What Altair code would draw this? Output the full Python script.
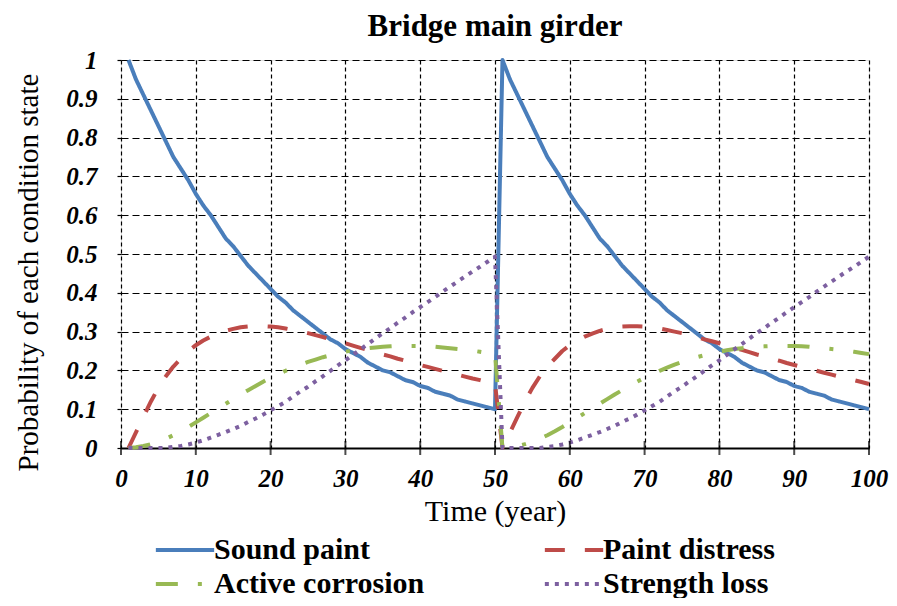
import altair as alt
import pandas as pd

# ---- data (one 50-year maintenance cycle, repeated) ----
years = list(range(1, 101))

sound_cycle = [1.00, 0.95, 0.91, 0.87, 0.83, 0.79, 0.75, 0.72, 0.69, 0.655,
               0.625, 0.60, 0.57, 0.54, 0.52, 0.495, 0.47, 0.45, 0.43, 0.41,
               0.39, 0.375, 0.355, 0.34, 0.325, 0.31, 0.295, 0.28, 0.27, 0.255,
               0.245, 0.235, 0.22, 0.21, 0.20, 0.195, 0.185, 0.175, 0.17, 0.16,
               0.155, 0.145, 0.14, 0.135, 0.125, 0.12, 0.115, 0.11, 0.105, 0.10]

paint_cycle = [0.00, 0.04, 0.08, 0.12, 0.155, 0.185, 0.21, 0.23, 0.25, 0.265,
               0.277, 0.287, 0.295, 0.302, 0.307, 0.311, 0.313, 0.314, 0.314, 0.313,
               0.311, 0.308, 0.304, 0.30, 0.296, 0.291, 0.286, 0.28, 0.275, 0.27,
               0.264, 0.258, 0.253, 0.247, 0.241, 0.236, 0.23, 0.225, 0.219, 0.214,
               0.209, 0.204, 0.199, 0.194, 0.189, 0.184, 0.179, 0.175, 0.17, 0.165]

corrosion_cycle = [0.00, 0.002, 0.005, 0.01, 0.016, 0.024, 0.033, 0.043, 0.054, 0.066,
                   0.078, 0.09, 0.102, 0.114, 0.126, 0.138, 0.149, 0.16, 0.171, 0.181,
                   0.19, 0.199, 0.207, 0.215, 0.222, 0.228, 0.234, 0.239, 0.244, 0.248,
                   0.252, 0.255, 0.257, 0.259, 0.261, 0.262, 0.263, 0.263, 0.263, 0.263,
                   0.262, 0.261, 0.259, 0.257, 0.255, 0.253, 0.251, 0.248, 0.245, 0.242]

strength_cycle = [0.00, 0.00, 0.00, 0.00, 0.00, 0.00, 0.003, 0.005, 0.009, 0.014,
                  0.02, 0.027, 0.034, 0.041, 0.049, 0.057, 0.067, 0.076, 0.086, 0.097,
                  0.108, 0.119, 0.133, 0.146, 0.158, 0.172, 0.185, 0.199, 0.213, 0.226,
                  0.24, 0.254, 0.268, 0.282, 0.296, 0.309, 0.323, 0.336, 0.35, 0.363,
                  0.376, 0.389, 0.403, 0.416, 0.429, 0.442, 0.455, 0.467, 0.48, 0.493]

sound = sound_cycle + sound_cycle
paint = paint_cycle + paint_cycle
corrosion = corrosion_cycle + corrosion_cycle
strength = strength_cycle + strength_cycle

series_names = ["Sound paint", "Paint distress", "Active corrosion", "Strength loss"]
series_values = [sound, paint, corrosion, strength]
series_colors = ["#4A7EBB", "#BE4B48", "#98B954", "#7D60A0"]
series_dashes = [[1, 0], [20, 20], [22, 20, 4, 20], [4, 6]]

x_ticks = list(range(0, 101, 10))
y_ticks = [i / 10 for i in range(11)]

rows = []
for name, vals in zip(series_names, series_values):
    for t, v in zip(years, vals):
        rows.append({"Time": t, "Probability": v, "Series": name})
df = pd.DataFrame(rows)
df_ticks = pd.DataFrame({"Time": x_ticks, "Probability": [0] * len(x_ticks)})

FONT = "Liberation Serif, Tinos, Times New Roman, DejaVu Serif, serif"

x_scale = alt.Scale(domain=[0, 100], nice=False)
y_scale = alt.Scale(domain=[0, 1], nice=False)


def make_legend():
    # long horizontal stroke drawn by a small custom path so the entry height
    # follows the label, not the stroke length
    return alt.Legend(
        title=None, orient="none", legendX=49, legendY=475, columns=2,
        direction="horizontal", columnPadding=111, rowPadding=4,
        symbolType="M-5,0H5", symbolSize=136, symbolStrokeWidth=4,
        symbolFillColor="transparent",
        labelFont=FONT, labelFontSize=30, labelFontWeight="bold",
        labelColor="black", labelOffset=14, labelLimit=400,
    )


color_enc = alt.Color(
    "Series:N",
    scale=alt.Scale(domain=series_names, range=series_colors),
    legend=make_legend(),
)
dash_enc = alt.StrokeDash(
    "Series:N",
    scale=alt.Scale(domain=series_names, range=series_dashes),
    legend=make_legend(),
)

x_axis = alt.Axis(
    values=x_ticks, title="Time (year)", titleFont=FONT, titleFontSize=30,
    titleFontWeight="normal", titleColor="black", titlePadding=5,
    labelFont=FONT, labelFontSize=25, labelFontWeight="bold",
    labelFontStyle="italic", labelColor="black", labelPadding=18,
    labelFlush=False, ticks=False, domain=True, domainColor="black",
    domainWidth=2, grid=True, gridColor="black", gridDash=[4, 3],
    gridWidth=1.2, gridOpacity=1,
)
y_axis = alt.Axis(
    values=y_ticks, format="~g", title="Probability of each condition state",
    titleFont=FONT, titleFontSize=29, titleFontWeight="normal",
    titleColor="black", titlePadding=22, titleY=212, labelFont=FONT,
    labelFontSize=25, labelFontWeight="bold", labelFontStyle="italic",
    labelColor="black", labelPadding=17, labelFlush=False,
    labelOverlap=False, ticks=True, tickSize=7, tickColor="black",
    tickDash=[4, 3], tickWidth=1.2, domain=False, grid=True,
    gridColor="black", gridDash=[7, 4], gridWidth=1.2, gridOpacity=1,
)

X = alt.X("Time:Q", scale=x_scale, axis=x_axis)
Y = alt.Y("Probability:Q", scale=y_scale, axis=y_axis)

layers = []
for name in series_names:
    layers.append(
        alt.Chart(df)
        .transform_filter(alt.datum.Series == name)
        .mark_line(strokeWidth=4, strokeCap="butt", strokeJoin="round")
        .encode(x=X, y=Y, color=color_enc, strokeDash=dash_enc)
    )

ticks = (
    alt.Chart(df_ticks)
    .mark_tick(orient="vertical", size=14, thickness=2, color="black")
    .encode(x=X, y=Y)
)

chart = (
    alt.layer(*layers, ticks)
    .resolve_scale(color="shared", strokeDash="shared")
    .properties(
        width=748,
        height=388,
        title=alt.TitleParams(
            "Bridge main girder", font=FONT, fontSize=31, fontWeight="bold",
            color="black", anchor="middle", offset=5,
        ),
        autosize=alt.AutoSizeParams(type="none"),
        padding={"left": 113, "top": 52, "right": 20, "bottom": 150},
    )
    .configure_view(stroke=None)
    .configure_axis(labelFont=FONT, titleFont=FONT)
    .configure_legend(labelFont=FONT)
    .configure_title(font=FONT)
    .configure(background="white", font=FONT)
)

chart.save("out.html", embed_options={"renderer": "svg", "actions": False})
